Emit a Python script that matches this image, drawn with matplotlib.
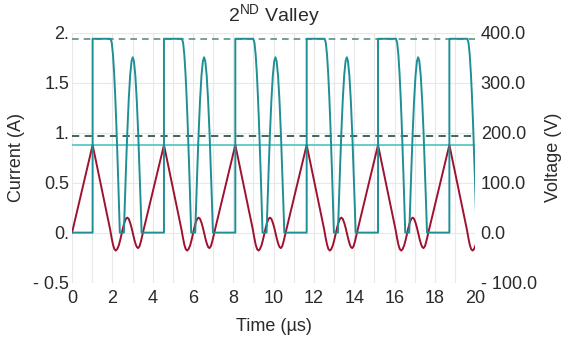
#!/usr/bin/env python
import matplotlib
matplotlib.use("Agg")
import matplotlib.pyplot as plt
import matplotlib.ticker as ticker

# rising edges of the switch-node voltage (us)
edge_times = [1.02, 4.56, 8.10, 11.64, 15.18, 18.72]

# one switching cycle, time measured from the rising edge (us)
volt_dt = [0.00, 0.00, 0.89, 0.95, 1.01, 1.07, 1.12, 1.17, 1.22, 1.26, 1.30, 1.35,
           1.55, 1.60, 1.66, 1.72, 1.79, 1.86, 1.93, 1.99, 2.05, 2.12, 2.19,
           2.26, 2.32, 2.38, 2.43]
volt_v = [0, 388, 388, 380, 356, 317, 274, 224, 167, 118, 66, 0,
          0, 62, 134, 200, 265, 314, 343, 351, 343, 314, 265,
          200, 134, 62, 0]

curr_dt = [0.00, 0.80, 0.87, 0.94, 1.01, 1.08, 1.15, 1.22, 1.30, 1.37, 1.44,
           1.51, 1.58, 1.65, 1.72, 1.79, 1.86, 1.93, 2.00, 2.07, 2.14, 2.20,
           2.26, 2.33, 2.40, 2.47, 2.52]
curr_a = [0.877, 0.10, 0.03, -0.05, -0.12, -0.165, -0.18, -0.165, -0.127, -0.073,
          -0.011, 0.051, 0.103, 0.138, 0.15, 0.137, 0.10, 0.05, -0.011, -0.07,
          -0.119, -0.146, -0.155, -0.135, -0.085, -0.025, 0.02]

level_dashed_top = 1.94
level_dashed_mid = 0.967
level_solid = 0.877

x_ticks = list(range(0, 21, 2))
left_ticks = [-0.5, 0, 0.5, 1, 1.5, 2]
left_labels = ["- 0.5", "0.", "0.5", "1.", "1.5", "2."]
right_ticks = [-100, 0, 100, 200, 300, 400]
right_labels = ["- 100.0", "0.0", "100.0", "200.0", "300.0", "400.0"]


def build_waveforms():
    vt, vv = [0.0], [0.0]
    ct, ca = [0.0], [0.0]
    for t0 in edge_times:
        vt += [t0 + d for d in volt_dt]
        vv += volt_v
        ct += [t0 + d for d in curr_dt]
        ca += curr_a
    return vt, vv, ct, ca


def main() -> int:
    plt.rcParams["font.family"] = ["Liberation Sans", "DejaVu Sans"]
    plt.rcParams["mathtext.fontset"] = "custom"
    plt.rcParams["mathtext.rm"] = "Liberation Sans"

    vt, vv, ct, ca = build_waveforms()

    fig = plt.figure(figsize=(5.63, 3.38), dpi=100)
    ax = fig.add_axes([0.128, 0.164, 0.716, 0.739])
    ax2 = ax.twinx()

    text_color = "#2a2a2a"
    grid_color = "#e8e8e8"

    ax.set_xlim(0, 20)
    ax.set_ylim(-0.5, 2)
    ax2.set_ylim(-100, 400)

    ax.xaxis.set_major_locator(ticker.FixedLocator(x_ticks))
    ax.xaxis.set_minor_locator(ticker.MultipleLocator(1))
    ax.grid(True, which="both", axis="x", color=grid_color, lw=0.8)
    ax.grid(True, which="major", axis="y", color=grid_color, lw=0.8)
    ax.set_axisbelow(True)

    ax.set_yticks(left_ticks)
    ax.set_yticklabels(left_labels)
    ax2.set_yticks(right_ticks)
    ax2.set_yticklabels(right_labels)

    for a in (ax, ax2):
        for s in a.spines.values():
            s.set_visible(False)
        a.tick_params(which="both", length=0, labelsize=13, colors=text_color, pad=2)
    ax.tick_params(axis="x", pad=5)
    ax2.tick_params(axis="y", pad=4)

    # reference levels
    ax.axhline(level_dashed_top, color="#5f8f84", lw=1.2, ls=(0, (4, 3)))
    ax.axhline(level_dashed_mid, color="#2a5a4e", lw=1.3, ls=(0, (4, 3)))
    ax.axhline(level_solid, color="#4cc5c0", lw=1.2)

    ax.plot(ct, ca, color="#9e1230", lw=1.4, zorder=3)
    ax2.plot(vt, vv, color="#1f8f96", lw=1.4, zorder=4)

    ax.set_xlabel("Time (\u00b5s)", fontsize=13, color=text_color, labelpad=8)
    ax.set_ylabel("Current (A)", fontsize=13, color=text_color, labelpad=6)
    ax2.set_ylabel("Voltage (V)", fontsize=13, color=text_color, labelpad=6)
    ax.set_title(r"2$^{\mathrm{ND}}$ Valley", fontsize=14, color=text_color, pad=8)

    fig.savefig("out.png", dpi=100)
    return 0


if __name__ == "__main__":
    main()
